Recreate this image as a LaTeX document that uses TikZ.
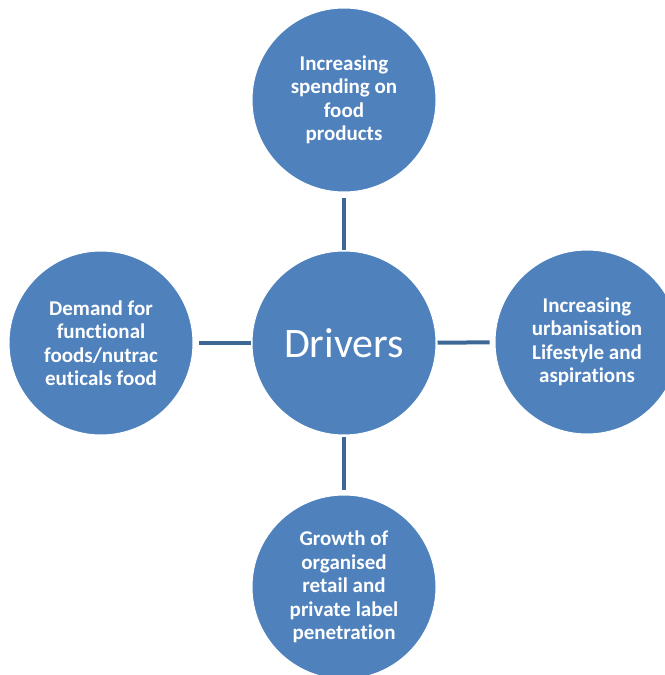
\documentclass[tikz,border=0pt]{standalone}
\usepackage{fontspec}
\setmainfont{Carlito}[RawFeature={-liga}]
\definecolor{ballfill}{HTML}{4F81BD}
\definecolor{linkcol}{HTML}{3D6896}
\begin{document}
\begin{tikzpicture}[x=1bp,y=-1bp,
  ball/.style={circle, fill=ballfill, draw=white, line width=1bp,
    minimum size=184bp, inner sep=0pt, align=center, text=white,
    font=\fontsize{21bp}{23.5bp}\selectfont\bfseries},
  link/.style={draw=linkcol, line width=4bp, shorten <=1bp, shorten >=5bp}]
  \useasboundingbox (0,0) rectangle (665,675);
  \node[ball, font=\fontsize{42bp}{46bp}\selectfont] (hub) at (344,343) {Drivers};
  \node[ball] (top) at (344,100) {Increasing\\spending on\\food\\products};
  \node[ball] (left) at (101,343) {Demand for\\functional\\foods/nutrac\\euticals food};
  \node[ball] (right) at (587,342) {Increasing\\urbanisation\\Lifestyle and\\aspirations};
  \node[ball] (bottom) at (344,587) {Growth of\\organised\\retail and\\private label\\penetration};
  \draw[link] (hub) -- (top);
  \draw[link] (hub) -- (left);
  \draw[link] (hub) -- (right);
  \draw[link] (hub) -- (bottom);
\end{tikzpicture}
\end{document}
